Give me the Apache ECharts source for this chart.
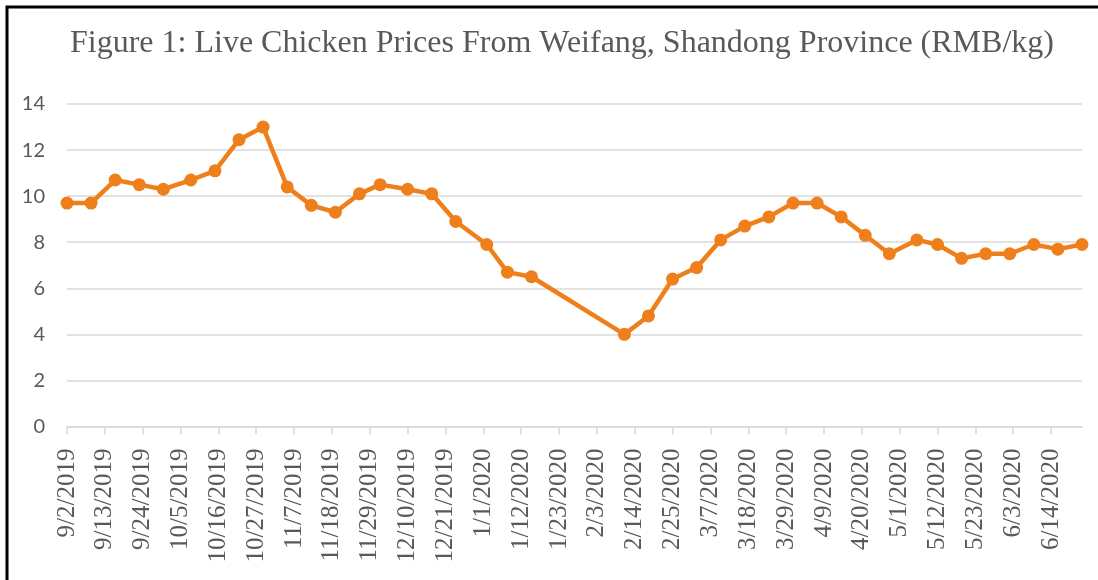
<!DOCTYPE html>
<html>
<head>
<meta charset="utf-8">
<title>Live Chicken Prices</title>
<script src="https://cdn.jsdelivr.net/npm/echarts@6/dist/echarts.min.js"></script>
<style>
  html, body { margin: 0; padding: 0; background: #fff; }
  #chart-container { width: 1098px; height: 580px; }
</style>
</head>
<body>
<div id="chart-container"></div>
<script>
// 数据

var dates = [
  '2019-09-02', '2019-09-09', '2019-09-16', '2019-09-23', '2019-09-30',
  '2019-10-08', '2019-10-15', '2019-10-22', '2019-10-29', '2019-11-05',
  '2019-11-12', '2019-11-19', '2019-11-26', '2019-12-02', '2019-12-10',
  '2019-12-17', '2019-12-24', '2020-01-02', '2020-01-08', '2020-01-15',
  '2020-02-11', '2020-02-18', '2020-02-25', '2020-03-03', '2020-03-10',
  '2020-03-17', '2020-03-24', '2020-03-31', '2020-04-07', '2020-04-14',
  '2020-04-21', '2020-04-28', '2020-05-06', '2020-05-12', '2020-05-19',
  '2020-05-26', '2020-06-02', '2020-06-09', '2020-06-16', '2020-06-23'
];

var prices = [
  9.7, 9.7, 10.7, 10.5, 10.3,
  10.7, 11.1, 12.45, 13.0, 10.4,
  9.6, 9.3, 10.1, 10.5, 10.3,
  10.1, 8.9, 7.9, 6.7, 6.5,
  4.0, 4.8, 6.4, 6.9, 8.1,
  8.7, 9.1, 9.7, 9.7, 9.1,
  8.3, 7.5, 8.1, 7.9, 7.3,
  7.5, 7.5, 7.9, 7.7, 7.9
];

// 横轴刻度
var tickDates = [
  '2019-09-02', '2019-09-13', '2019-09-24', '2019-10-05', '2019-10-16',
  '2019-10-27', '2019-11-07', '2019-11-18', '2019-11-29', '2019-12-10',
  '2019-12-21', '2020-01-01', '2020-01-12', '2020-01-23', '2020-02-03',
  '2020-02-14', '2020-02-25', '2020-03-07', '2020-03-18', '2020-03-29',
  '2020-04-09', '2020-04-20', '2020-05-01', '2020-05-12', '2020-05-23',
  '2020-06-03', '2020-06-14'
];

var titleText = 'Figure 1: Live Chicken Prices From Weifang, Shandong Province (RMB/kg)';

// 日期 -> 距离起始日的天数
var DAY = 86400000;
var start = Date.parse(dates[0] + 'T00:00:00Z');
function dayOf(s) {
  return Math.round((Date.parse(s + 'T00:00:00Z') - start) / DAY);
}
function fmt(v) {
  var d = new Date(start + v * DAY);
  return (d.getUTCMonth() + 1) + '/' + d.getUTCDate() + '/' + d.getUTCFullYear();
}

var seriesData = dates.map(function (s, i) { return [dayOf(s), prices[i]]; });
var tickDays = tickDates.map(dayOf);

var dom = document.getElementById('chart-container');
var myChart = echarts.init(dom, null, { renderer: 'canvas' });

var option = {
  animation: false,
  backgroundColor: '#fff',
  title: {
    text: titleText,
    left: 65,
    top: 23,
    textStyle: {
      fontFamily: 'Liberation Serif',
      fontSize: 32,
      fontWeight: 'normal',
      color: '#595959'
    }
  },
  grid: { left: 67, right: 16, top: 104, bottom: 153.5 },
  xAxis: {
    type: 'value',
    min: 0,
    max: dayOf(dates[dates.length - 1]),
    axisLine: { lineStyle: { color: '#D9D9D9', width: 1.5 } },
    axisTick: {
      show: true,
      length: 8,
      customValues: tickDays,
      lineStyle: { color: '#D9D9D9', width: 1.5 }
    },
    splitLine: { show: false },
    axisLabel: {
      customValues: tickDays,
      rotate: 90,
      margin: 22,
      padding: [11, 0, 0, 0],
      fontFamily: 'Liberation Serif',
      fontSize: 25,
      color: '#595959',
      formatter: fmt
    }
  },
  yAxis: {
    type: 'value',
    min: 0,
    max: 14,
    interval: 2,
    axisLine: { show: false },
    axisTick: { show: false },
    splitLine: { lineStyle: { color: '#D9D9D9', width: 1.5 } },
    axisLabel: {
      margin: 22,
      padding: [8, 0, 0, 0],
      fontFamily: 'Lato',
      fontSize: 20,
      color: '#595959'
    }
  },
  series: [
    {
      type: 'line',
      data: seriesData,
      symbol: 'circle',
      symbolSize: 13,
      lineStyle: { color: '#EF7F1A', width: 4.5 },
      itemStyle: { color: '#EF7F1A' }
    }
  ],
  graphic: [
    // 外框 (只露出左边和上边)
    {
      type: 'polyline',
      shape: { points: [[7, 580], [7, 7], [1098, 7]] },
      style: { stroke: '#000', lineWidth: 3, fill: null }
    }
  ]
};

myChart.setOption(option);
window.addEventListener('resize', myChart.resize);
</script>
</body>
</html>
